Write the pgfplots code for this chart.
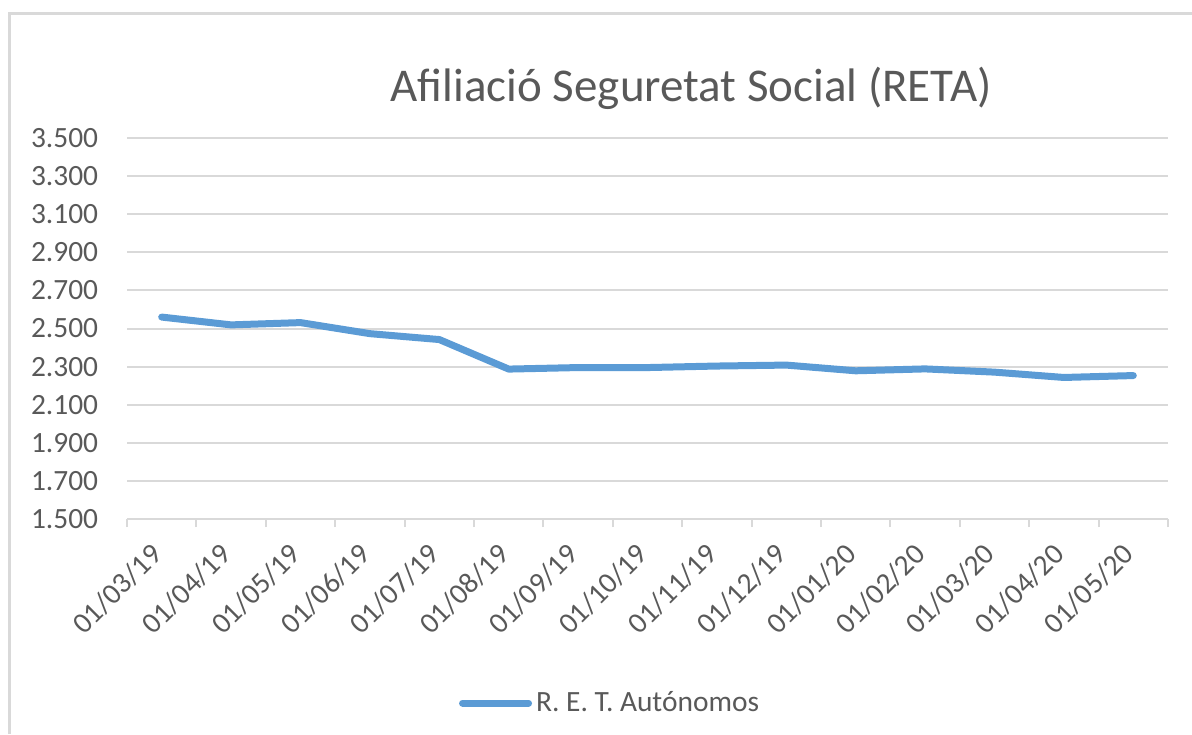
\documentclass[border=0pt]{standalone}
\usepackage{pgfplots}
\pgfplotsset{compat=1.18}
\usepackage{fontspec}
\setmainfont{Carlito}
\definecolor{txtgray}{HTML}{595959}
\definecolor{gridgray}{HTML}{D9D9D9}
\definecolor{lineblue}{HTML}{5B9BD5}

\pgfplotstableread{
x  val
0  2560
1  2519
2  2531
3  2473
4  2442
5  2287
6  2295
7  2295
8  2303
9  2308
10 2278
11 2288
12 2271
13 2243
14 2253
}\retadata

\begin{document}
\begin{tikzpicture}
% page = 1192 x 734 px, 1 px = 0.5pt
\path[use as bounding box] (0,0) rectangle (596pt,-367pt);
\draw[gridgray, line width=1.5pt] (4.5pt,-367pt) -- (4.5pt,-6.5pt) -- (596pt,-6.5pt);
\begin{axis}[
    at={(63.5pt,-259.5pt)}, anchor=south west,
    scale only axis,
    width=520.5pt, height=190.5pt,
    xmin=-0.5, xmax=14.5,
    ymin=1500, ymax=3500,
    ytick={1500,1700,...,3500},
    xtick={0,...,14},
    xticklabels={01/03/19,01/04/19,01/05/19,01/06/19,01/07/19,01/08/19,01/09/19,01/10/19,01/11/19,01/12/19,01/01/20,01/02/20,01/03/20,01/04/20,01/05/20},
    minor xtick={-0.5,0.5,...,14.5},
    axis lines*=left,
    y axis line style={draw=none},
    x axis line style={gridgray, line width=1pt},
    ytick style={draw=none},
    major x tick style={draw=none},
    minor x tick style={gridgray, line width=1pt},
    minor tick length=4pt,
    tick align=outside,
    ymajorgrids,
    grid style={gridgray, line width=1pt},
    tick label style={font=\fontsize{14.7}{17}\selectfont, text=txtgray},
    /pgf/number format/assume math mode=true,
    /pgf/number format/1000 sep={.},
    yticklabel style={anchor=east, inner sep=0pt, xshift=-10pt},
    xticklabel style={rotate=45, anchor=north east, inner sep=0pt, xshift=-9.3pt, yshift=-0.4pt},
    title={Afiliació Seguretat Social (RETA)},
    title style={at={(axis description cs:0.542,1.10)}, anchor=center,
        font=\fontsize{23.5}{27}\selectfont, text=txtgray},
    legend style={at={(axis description cs:0.465,-0.483)}, anchor=center,
        draw=none, fill=none, font=\fontsize{14.7}{17}\selectfont, text=txtgray},
    legend image code/.code={\draw[lineblue, line width=3.5pt, line cap=round] (0pt,0pt) -- (33pt,0pt);},
]
\addplot[lineblue, line width=3.5pt, line join=round, line cap=round] table[x=x, y=val] {\retadata};
\addlegendentry{R. E. T. Autónomos}
\end{axis}
\end{tikzpicture}
\end{document}
